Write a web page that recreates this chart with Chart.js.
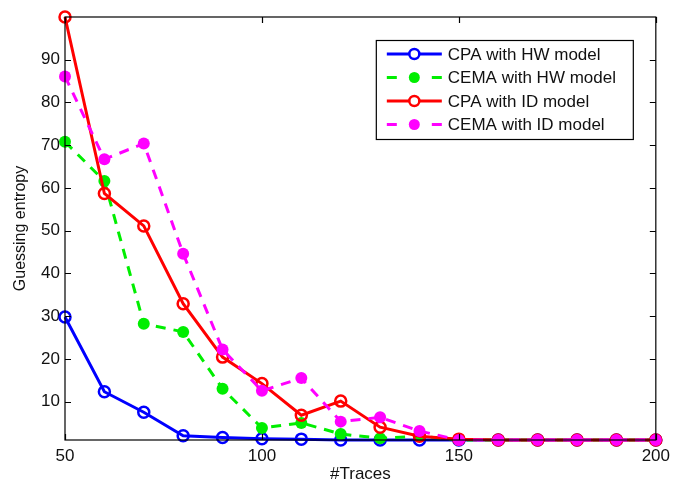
<!DOCTYPE html>
<html><head><meta charset="utf-8">
<script src="https://cdn.jsdelivr.net/npm/chart.js@4/dist/chart.umd.min.js"></script>
<style>html,body{margin:0;padding:0;background:#fff}#wrap{width:676px;height:481px}</style>
</head><body><div id="wrap"><canvas id="c" width="676" height="481"></canvas></div>
<script>
const traces = [50,60,70,80,90,100,110,120,130,140,150,160,170,180,190,200];
const cpaHW  = [29.8,12.3,7.5,2.0,1.6,1.3,1.2,1.0,1.0,1.0,1,1,1,1,1,1];
const cemaHW = [70.8,61.6,28.2,26.3,13.0,3.8,5.0,2.4,1.4,1.9,1,1,1,1,1,1];
const cpaID  = [100,58.7,51.1,32.9,20.4,14.2,6.8,10.1,4.0,1.9,1.2,1,1,1,1,1];
const cemaID = [86.1,66.7,70.4,44.6,22.2,12.5,15.5,5.3,6.3,3.1,1,1,1,1,1,1];
const xTicks = [50,100,150,200];
const yTicks = [10,20,30,40,50,60,70,80,90];
const seriesNames = ['CPA with HW model','CEMA with HW model','CPA with ID model','CEMA with ID model'];

const pts = arr => arr.map((v,i)=>({x:traces[i], y:v}));
const FONT = "'Liberation Sans', Arial, sans-serif";

function ds(label, data, color, dashed, order){
  return {
    label, data: pts(data), borderColor: color, borderWidth: 3,
    borderDash: dashed ? [10,8] : [],
    pointRadius: dashed ? 6 : 5.5, pointBorderWidth: dashed ? 0 : 2.5,
    pointBackgroundColor: dashed ? color : 'rgba(0,0,0,0)',
    pointBorderColor: color, pointStyle: 'circle',
    tension: 0, fill: false, clip: false, order, dashedMark: dashed
  };
}

const frame = {
  id: 'frame',
  afterDatasetsDraw(chart){
    const {ctx, chartArea:a, scales:{x, y}} = chart;
    ctx.save();
    ctx.strokeStyle = '#000'; ctx.lineWidth = 1.2;
    ctx.strokeRect(a.left, a.top, a.right-a.left, a.bottom-a.top);
    const tl = 6;
    ctx.beginPath();
    xTicks.forEach(v=>{ const px = Math.round(x.getPixelForValue(v))+0.5;
      ctx.moveTo(px, a.bottom); ctx.lineTo(px, a.bottom-tl);
      ctx.moveTo(px, a.top); ctx.lineTo(px, a.top+tl); });
    yTicks.forEach(v=>{ const py = Math.round(y.getPixelForValue(v))+0.5;
      ctx.moveTo(a.left, py); ctx.lineTo(a.left+tl, py);
      ctx.moveTo(a.right, py); ctx.lineTo(a.right-tl, py); });
    ctx.stroke();
    // legend
    const bx = a.right - 23, by = a.top + 23, bw = 257, bh = 99;
    const L = bx - bw, T = by;
    ctx.fillStyle = '#fff'; ctx.fillRect(L, T, bw, bh);
    ctx.lineWidth = 1.2; ctx.strokeStyle = '#000'; ctx.strokeRect(L+0.5, T+0.5, bw, bh);
    [0,1,2,3].forEach((i,k)=>{
      const d = chart.data.datasets[i];
      const cy = T + 14 + k*23.5;
      const x0 = L + 11, x1 = L + 66, cx = (x0+x1)/2;
      ctx.strokeStyle = d.borderColor; ctx.lineWidth = 3;
      if(d.dashedMark){
        ctx.beginPath(); ctx.moveTo(x0, cy); ctx.lineTo(x0+10, cy);
        ctx.moveTo(x1-10, cy); ctx.lineTo(x1, cy); ctx.stroke();
        ctx.fillStyle = d.borderColor; ctx.beginPath(); ctx.arc(cx, cy, 5.5, 0, Math.PI*2); ctx.fill();
      } else {
        ctx.beginPath(); ctx.moveTo(x0, cy); ctx.lineTo(x1, cy); ctx.stroke();
        ctx.fillStyle = '#fff'; ctx.lineWidth = 2.5;
        ctx.beginPath(); ctx.arc(cx, cy, 5, 0, Math.PI*2); ctx.fill(); ctx.stroke();
      }
      ctx.fillStyle = '#111'; ctx.font = '17px ' + FONT;
      ctx.textAlign = 'left'; ctx.textBaseline = 'middle';
      ctx.fillText(d.label, L + 72, cy + 1);
    });
    ctx.restore();
  }
};

new Chart(document.getElementById('c'), {
  type: 'line',
  data: { datasets: [
    ds(seriesNames[0], cpaHW, '#0000ff', false, 4),
    ds(seriesNames[1], cemaHW, '#00ee00', true, 3),
    ds(seriesNames[2], cpaID, '#ff0000', false, 2),
    ds(seriesNames[3], cemaID, '#ff00ff', true, 1)
  ]},
  options: {
    responsive: false, animation: false, devicePixelRatio: 1,
    layout: { padding: { left: 0, right: 16, top: 17, bottom: 0 } },
    plugins: { legend: { display: false }, tooltip: { enabled: false } },
    scales: {
      x: {
        type: 'linear', min: 50, max: 200,
        afterBuildTicks: s => { s.ticks = xTicks.map(v=>({value:v})); },
        afterFit: s => { s.height = 41; },
        grid: { display: false, drawTicks: false }, border: { display: false },
        ticks: { color: '#111', font: { family: FONT, size: 17 }, padding: 6, maxRotation: 0 },
        title: { display: true, text: '#Traces', color: '#111', font: { family: FONT, size: 17, lineHeight: 1 }, padding: { top: 0, bottom: -2 } }
      },
      y: {
        type: 'linear', min: 1, max: 100,
        afterBuildTicks: s => { s.ticks = yTicks.map(v=>({value:v})); },
        afterFit: s => { s.width = 65; },
        grid: { display: false, drawTicks: false }, border: { display: false },
        ticks: { color: '#111', font: { family: FONT, size: 17 }, padding: 5 },
        title: { display: true, text: 'Guessing entropy', color: '#111', font: { family: FONT, size: 16, lineHeight: 1 }, padding: { top: 13, bottom: 0 } }
      }
    }
  },
  plugins: [frame]
});
</script></body></html>
